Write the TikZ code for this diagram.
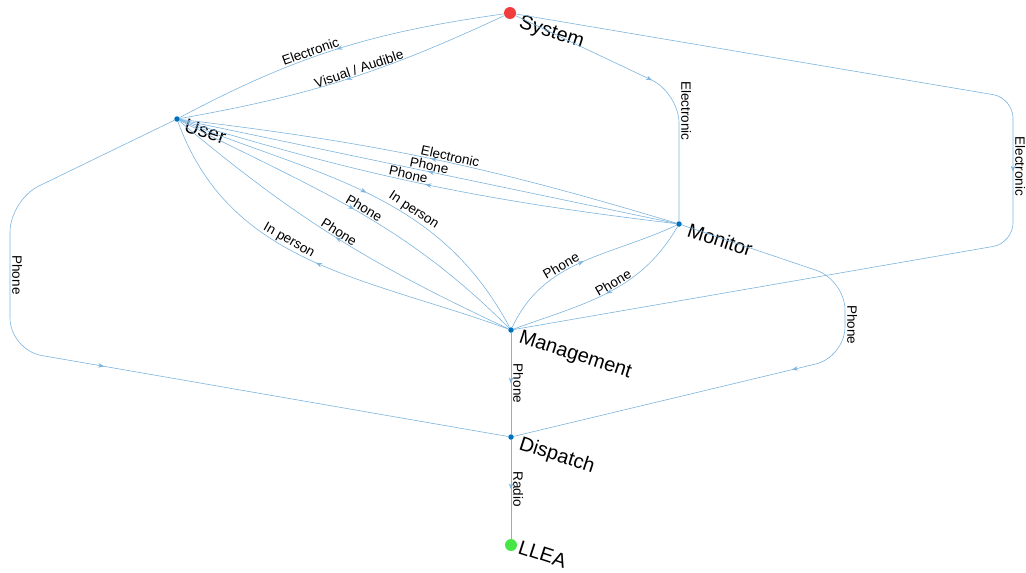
\documentclass[tikz,border=0pt]{standalone}
\usepackage{fontspec}
\setmainfont{Liberation Sans}
\usetikzlibrary{arrows.meta,decorations.markings}

\definecolor{edgeblue}{RGB}{125,180,222}
\definecolor{dotblue}{RGB}{0,114,189}
\definecolor{srcred}{RGB}{240,60,60}
\definecolor{sinkgreen}{RGB}{70,230,70}

\begin{document}
\begin{tikzpicture}[x=1pt,y=1pt,
  dot/.style={circle,fill=dotblue,inner sep=0pt,minimum size=5.5pt},
  bigdot/.style={circle,inner sep=0pt,minimum size=12pt},
  tag/.style={anchor=base west,rotate=-18,inner sep=0pt,font=\fontsize{20}{22}\selectfont},
  flow/.style={draw=edgeblue,line width=.6pt,postaction={decorate},
    decoration={markings,mark=at position #1 with {\arrow{Stealth[length=6pt,width=4.5pt,color=edgeblue]}}}},
  flow/.default=.5,
  elbl/.style={font=\fontsize{13.5}{15}\selectfont,inner sep=1pt,sloped,above},
  vlbl/.style={font=\fontsize{13.5}{15}\selectfont,inner sep=2pt,rotate=-90,anchor=south}]
\useasboundingbox (0,0) rectangle (1026,-573);

% nodes
\node[bigdot,fill=srcred] (sys) at (510,-13) {};
\node[dot] (user) at (177,-119) {};
\node[dot] (mon) at (679,-224) {};
\node[dot] (mgmt) at (511,-330) {};
\node[dot] (disp) at (511,-437) {};
\node[bigdot,fill=sinkgreen] (llea) at (511,-545) {};

\node[tag] (sysname) at ([shift={(8,-14)}]sys.center) {System};
\node[tag] (username) at ([shift={(6,-12)}]user.center) {User};
\node[tag] (monname) at ([shift={(7,-12)}]mon.center) {Monitor};
\node[tag] (mgmtname) at ([shift={(7,-12)}]mgmt.center) {Management};
\node[tag] (dispname) at ([shift={(7,-12)}]disp.center) {Dispatch};
\node[tag] (lleaname) at ([shift={(6,-8)}]llea.center) {LLEA};

% system
\draw[flow] (sys) to[out=188,in=28] node[elbl,pos=.58]{Electronic} (user);
\draw[flow] (sys) to[out=205,in=10] node[elbl,pos=.45]{Visual / Audible} (user);
\draw[flow,rounded corners=30pt] (sys) -- (679,-93) -- node[vlbl,pos=.14]{Electronic} (mon);
\draw[flow,rounded corners=20pt] (sys) -- (1013,-98) -- node[vlbl,pos=.47]{Electronic} (1013,-243) -- (mgmt);

% user
\draw[flow,rounded corners=32pt] (user) -- (10,-200) -- node[vlbl,pos=.5]{Phone} (10,-350) -- (disp);
\draw[flow] (user) to[out=-22,in=118] node[elbl,pos=.62]{In person} (mgmt);
\draw[flow] (user) to[out=-27,in=135] node[elbl,pos=.52]{Phone} (mgmt);

% monitor
\draw[flow] (mon) to[bend right=5] node[elbl,pos=.46]{Electronic} (user);
\draw[flow] (mon) -- node[elbl,pos=.5]{Phone} (user);
\draw[flow] (mon) to[bend left=5] node[elbl,pos=.54]{Phone} (user);
\draw[flow] (mon) to[out=240,in=20] node[elbl,pos=.45]{Phone} (mgmt);
\draw[flow,rounded corners=30pt] (mon) -- (845,-280) -- node[vlbl,pos=.58]{Phone} (845,-357) -- (disp);

% management
\draw[flow] (mgmt) to[out=155,in=-40] node[elbl,pos=.5]{Phone} (user);
\draw[flow] (mgmt) to[out=160,in=-70] node[elbl,pos=.57]{In person} (user);
\draw[flow] (mgmt) to[out=65,in=205] node[elbl,pos=.4]{Phone} (mon);
\draw[flow] (mgmt) -- node[vlbl]{Phone} (disp);

% dispatch
\draw[flow] (disp) -- node[vlbl]{Radio} (llea);
\end{tikzpicture}
\end{document}
